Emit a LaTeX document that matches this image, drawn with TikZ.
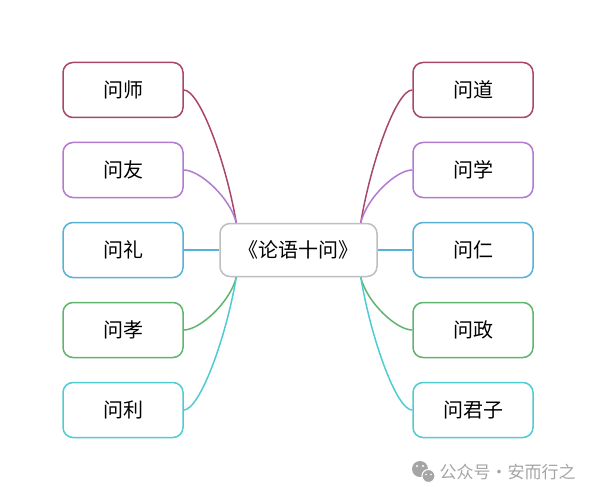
\documentclass[tikz,border=0pt]{standalone}
\usepackage{fontspec}
\newfontfamily\cjk{Noto Sans CJK SC}
\usepackage{xcolor}
\usepackage{tikz}

\definecolor{corShi}{RGB}{168,70,108}
\definecolor{corYou}{RGB}{178,122,208}
\definecolor{corLi}{RGB}{88,178,214}
\definecolor{corXiao}{RGB}{96,180,110}
\definecolor{corLiyi}{RGB}{78,204,210}
\definecolor{corCentro}{RGB}{190,190,190}
\definecolor{corMarca}{RGB}{165,165,165}

\tikzset{
  caixa/.style={draw=#1, line width=1.5pt, rounded corners=10pt, fill=white,
    minimum width=120pt, minimum height=55pt, font=\cjk\fontsize{20}{24}\selectfont},
  ramo/.style={draw=#1, line width=1.5pt},
}

\begin{document}
\begin{tikzpicture}[x=1pt,y=-1pt]

\useasboundingbox (0,0) rectangle (597,500);

% Caixa central
\node[caixa=corCentro, minimum width=157pt, minimum height=53pt] (centro) at (298.5,250) {《论语十问》};

% Caixas da esquerda
\node[caixa=corShi]   (shi)  at (123,90)  {问师};
\node[caixa=corYou]   (you)  at (123,170) {问友};
\node[caixa=corLi]    (li)   at (123,250) {问礼};
\node[caixa=corXiao]  (xiao) at (123,330) {问孝};
\node[caixa=corLiyi]  (liyi) at (123,410) {问利};

% Caixas da direita
\node[caixa=corShi]   (dao)   at (473,90)  {问道};
\node[caixa=corYou]   (xue)   at (473,170) {问学};
\node[caixa=corLi]    (ren)   at (473,250) {问仁};
\node[caixa=corXiao]  (zheng) at (473,330) {问政};
\node[caixa=corLiyi]  (junzi) at (473,410) {问君子};

% Ramos da esquerda
\draw[ramo=corShi]  (shi.east)  .. controls +(16,0) and +(-10,-60) .. ([xshift=17pt]centro.north west);
\draw[ramo=corYou]  (you.east)  .. controls +(16,0) and +(-6,-25)  .. ([xshift=17pt]centro.north west);
\draw[ramo=corLi]   (li.east) -- (centro.west);
\draw[ramo=corXiao] (xiao.east) .. controls +(16,0) and +(-6,25)   .. ([xshift=17pt]centro.south west);
\draw[ramo=corLiyi] (liyi.east) .. controls +(16,0) and +(-10,60)  .. ([xshift=17pt]centro.south west);

% Ramos da direita
\draw[ramo=corShi]  (dao.west)   .. controls +(-16,0) and +(10,-60) .. ([xshift=-17pt]centro.north east);
\draw[ramo=corYou]  (xue.west)   .. controls +(-16,0) and +(6,-25)  .. ([xshift=-17pt]centro.north east);
\draw[ramo=corLi]   (ren.west) -- (centro.east);
\draw[ramo=corXiao] (zheng.west) .. controls +(-16,0) and +(6,25)   .. ([xshift=-17pt]centro.south east);
\draw[ramo=corLiyi] (junzi.west) .. controls +(-16,0) and +(10,60)  .. ([xshift=-17pt]centro.south east);

% Marca d'agua
\fill[corMarca] (420,469) circle (8);
\draw[corMarca, fill=corMarca, draw=white, line width=1pt] (428.5,476) circle (6.5);
\fill[white] (417,466) circle (1.2) (423,466) circle (1.2);
\fill[white] (426,474.5) circle (0.9) (431,474.5) circle (0.9);
\node[font=\cjk\fontsize{17}{20}\selectfont, text=corMarca, anchor=west] (marca) at (436,472) {公众号・安而行之};

\end{tikzpicture}
\end{document}
